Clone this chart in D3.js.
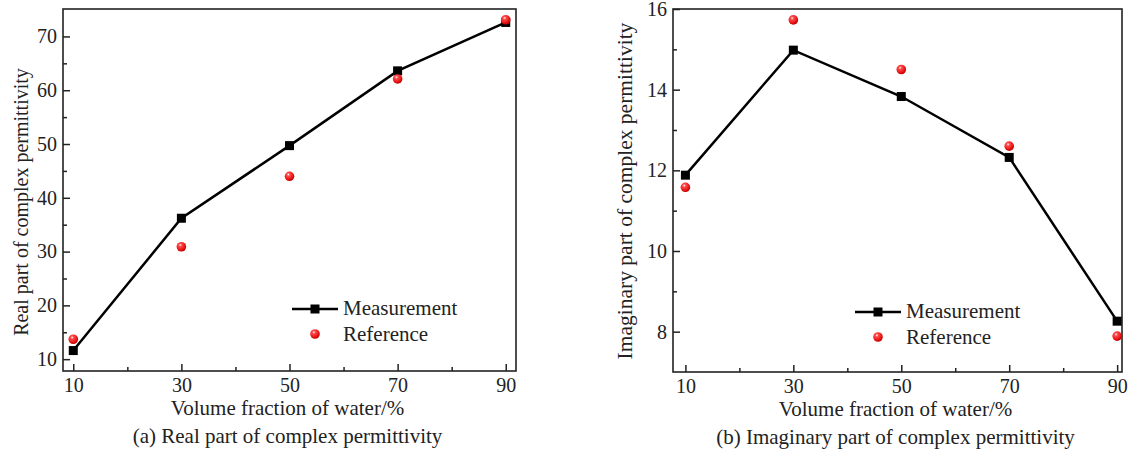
<!DOCTYPE html>
<html>
<head>
<meta charset="utf-8">
<script src="https://cdn.jsdelivr.net/npm/d3@7"></script>
<style>
body { margin: 0; background: #fff; }
svg text { font-family: "Liberation Serif", "Times New Roman", serif; fill: #222; }
</style>
</head>
<body>
<svg id="chart" width="1132" height="455"></svg>
<script>
var fractions = [10, 30, 50, 70, 90];
var realMeasured = [11.6, 36.2, 49.7, 63.6, 72.6];
var realReference = [13.7, 30.9, 44.0, 62.1, 73.1];
var imagMeasured = [11.88, 14.98, 13.83, 12.32, 8.26];
var imagReference = [11.58, 15.73, 14.5, 12.6, 7.89];
var realTicks = [10, 20, 30, 40, 50, 60, 70];
var imagTicks = [8, 10, 12, 14, 16];
var xTicks = [10, 30, 50, 70, 90];

const svg = d3.select("#chart");

const defs = svg.append("defs");
const grad = defs.append("radialGradient")
	.attr("id", "ball")
	.attr("cx", "38%").attr("cy", "32%").attr("r", "65%");
grad.append("stop").attr("offset", "0%").attr("stop-color", "#ffffff");
grad.append("stop").attr("offset", "25%").attr("stop-color", "#ff4a4a");
grad.append("stop").attr("offset", "70%").attr("stop-color", "#ee1c1c");
grad.append("stop").attr("offset", "100%").attr("stop-color", "#c80000");

function panel(opt) {
	const x = d3.scaleLinear().domain(opt.xDomain).range([opt.left, opt.right]);
	const y = d3.scaleLinear().domain(opt.yDomain).range([opt.bottom, opt.top]);
	const g = svg.append("g");

	// frame
	g.append("rect")
		.attr("x", opt.left).attr("y", opt.top)
		.attr("width", opt.right - opt.left).attr("height", opt.bottom - opt.top)
		.attr("fill", "none").attr("stroke", "#222").attr("stroke-width", 1.6);

	// x axis, ticks inward
	const xMinor = d3.range(20, 90, 20);
	g.append("g")
		.attr("transform", `translate(0,${opt.bottom})`)
		.call(d3.axisBottom(x).tickValues(xTicks).tickSizeInner(-7).tickSizeOuter(0))
		.call(a => a.select(".domain").remove())
		.call(a => a.selectAll("line").attr("stroke", "#222").attr("stroke-width", 1.5))
		.call(a => a.selectAll("text").attr("font-size", 20).attr("fill", "#222")
			.attr("dy", null).attr("y", 21));
	g.append("g")
		.attr("transform", `translate(0,${opt.bottom})`)
		.call(d3.axisBottom(x).tickValues(xMinor).tickSizeInner(-4).tickSizeOuter(0).tickFormat(""))
		.call(a => a.select(".domain").remove())
		.call(a => a.selectAll("line").attr("stroke", "#222").attr("stroke-width", 1.5));

	// y axis
	g.append("g")
		.attr("transform", `translate(${opt.left},0)`)
		.call(d3.axisLeft(y).tickValues(opt.yTicks).tickSizeInner(-7).tickSizeOuter(0).tickPadding(6))
		.call(a => a.select(".domain").remove())
		.call(a => a.selectAll("line").attr("stroke", "#222").attr("stroke-width", 1.5))
		.call(a => a.selectAll("text").attr("font-size", 20).attr("fill", "#222"));
	g.append("g")
		.attr("transform", `translate(${opt.left},0)`)
		.call(d3.axisLeft(y).tickValues(opt.yMinor).tickSizeInner(-4).tickSizeOuter(0).tickFormat(""))
		.call(a => a.select(".domain").remove())
		.call(a => a.selectAll("line").attr("stroke", "#222").attr("stroke-width", 1.5));

	// titles
	g.append("text")
		.attr("x", (opt.left + opt.right) / 2 - 2).attr("y", opt.bottom + 44)
		.attr("text-anchor", "middle").attr("font-size", 21)
		.text("Volume fraction of water/%");
	g.append("text")
		.attr("x", (opt.left + opt.right) / 2 - 2).attr("y", opt.bottom + 72)
		.attr("text-anchor", "middle").attr("font-size", 21)
		.text(opt.caption);
	g.append("text")
		.attr("transform", `translate(${opt.yTitleX},${opt.yTitleY}) rotate(-90)`)
		.attr("text-anchor", "middle").attr("font-size", opt.yTitleSize)
		.text(opt.yTitle);

	// measurement line
	const line = d3.line().x((d, i) => x(fractions[i])).y(d => y(d));
	g.append("path")
		.datum(opt.measured)
		.attr("d", line)
		.attr("fill", "none").attr("stroke", "#000").attr("stroke-width", 2.5);
	g.selectAll(".sq")
		.data(opt.measured)
		.enter().append("rect")
		.attr("x", (d, i) => x(fractions[i]) - 4.5)
		.attr("y", d => y(d) - 4.5)
		.attr("width", 9).attr("height", 9)
		.attr("fill", "#000");

	// reference points
	g.selectAll(".ball")
		.data(opt.reference)
		.enter().append("circle")
		.attr("cx", (d, i) => x(fractions[i]))
		.attr("cy", d => y(d))
		.attr("r", 4.8)
		.attr("fill", "url(#ball)");

	// legend
	const lg = g.append("g").attr("transform", `translate(${opt.legendX},${opt.legendY})`);
	lg.append("line").attr("x1", 0).attr("x2", 46).attr("y1", 0).attr("y2", 0)
		.attr("stroke", "#000").attr("stroke-width", 2.5);
	lg.append("rect").attr("x", 18.5).attr("y", -4.5).attr("width", 9).attr("height", 9).attr("fill", "#000");
	lg.append("circle").attr("cx", 23).attr("cy", 25).attr("r", 4.8).attr("fill", "url(#ball)");
	lg.append("text").attr("x", 51).attr("y", 6).attr("font-size", 21).text("Measurement");
	lg.append("text").attr("x", 51).attr("y", 32).attr("font-size", 21).text("Reference");
}

panel({
	left: 63, right: 516, top: 9, bottom: 371,
	xDomain: [8.1, 91.9], yDomain: [7.8, 75.1],
	yTicks: realTicks, yMinor: d3.range(15, 75, 10),
	measured: realMeasured, reference: realReference,
	yTitle: "Real part of complex permittivity", yTitleX: 28, yTitleY: 202, yTitleSize: 20,
	caption: "(a) Real part of complex permittivity",
	legendX: 292, legendY: 309
});

panel({
	left: 673, right: 1122, top: 9, bottom: 372,
	xDomain: [7.7, 90.9], yDomain: [7, 16],
	yTicks: imagTicks, yMinor: d3.range(9, 16, 2),
	measured: imagMeasured, reference: imagReference,
	yTitle: "Imaginary part of complex permittivity", yTitleX: 632, yTitleY: 191, yTitleSize: 21.5,
	caption: "(b) Imaginary part of complex permittivity",
	legendX: 855, legendY: 312
});
</script>
</body>
</html>
